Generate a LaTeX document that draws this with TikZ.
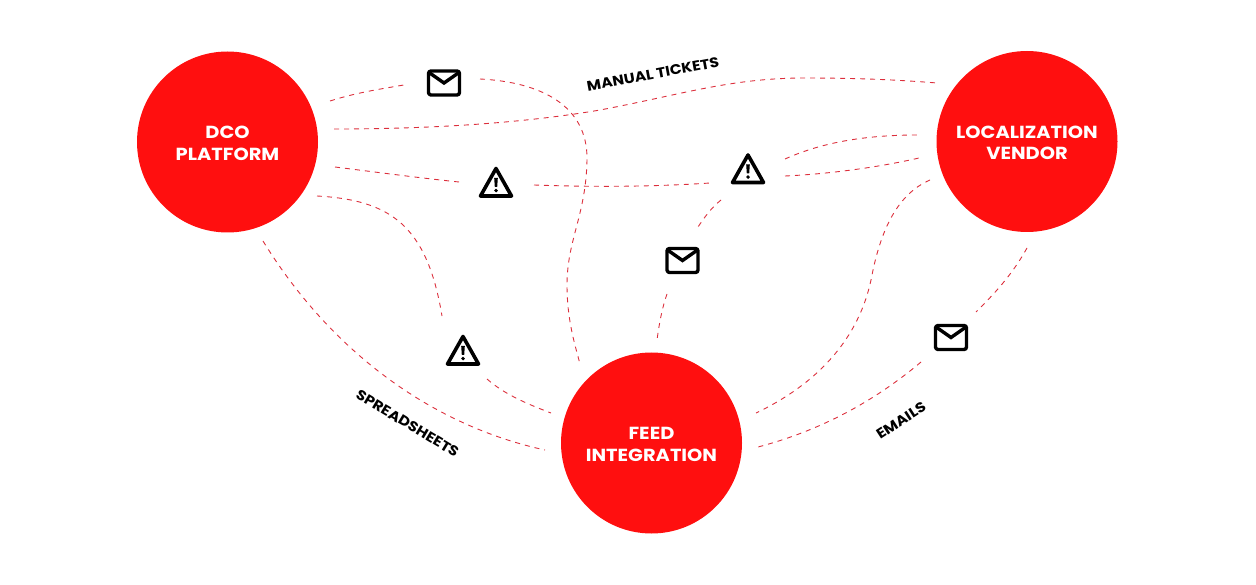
\documentclass[tikz,border=0pt]{standalone}
\usepackage{fontspec}
\setmainfont{Poppins}[FakeStretch=1.11]
\definecolor{hubred}{HTML}{FF0F0F}
\definecolor{linkred}{HTML}{DC2F3C}
\tikzset{
  hub/.style={circle,fill=hubred,minimum size=181pt,inner sep=0pt},
  hubtext/.style={text=white,align=center,inner sep=0pt,yshift=-1.5pt,font=\fontsize{17.5}{21.5}\selectfont\bfseries},
  link/.style={draw=linkred,line width=0.9pt,dash pattern=on 5pt off 5pt},
  tag/.style={font=\fontsize{14}{16}\selectfont\bfseries,inner sep=0pt},
  icon/.style={draw=none,inner sep=0pt,minimum size=4pt},
  mailglyph/.pic={
    \draw[line width=3.4pt,rounded corners=2.5pt,line join=round] (-15.5,-12) rectangle (15.5,12);
    \draw[line width=3.4pt,line join=miter] (-15,-10.5) -- (0,0) -- (15,-10.5);
  },
  warnglyph/.pic={
    \draw[line width=3.6pt,line join=round] (0,-14.5) -- (15.5,13) -- (-15.5,13) -- cycle;
    \fill (-1.8,-5) -- (1.8,-5) -- (1.2,4) -- (-1.2,4) -- cycle;
    \fill (0,7.6) circle (1.9);
  }
}
\begin{document}
\begin{tikzpicture}[x=1pt,y=-1pt]
\useasboundingbox (0,0) rectangle (1256,585);
\node[hub,label={[hubtext]center:DCO\\PLATFORM}] (dco) at (227.5,142) {};
\node[hub,label={[hubtext]center:LOCALIZATION\\VENDOR}] (vendor) at (1027,141.5) {};
\node[hub,label={[hubtext]center:FEED\\INTEGRATION}] (feed) at (651.5,443) {};

\node[icon] (m1) at (444,83) {};
\node[icon] (m2) at (682.5,260.5) {};
\node[icon] (m3) at (951,337.5) {};
\node[icon] (w1) at (496,183) {};
\node[icon] (w2) at (748,169.5) {};
\node[icon] (w3) at (463,351) {};
\foreach \n in {m1,m2,m3} \pic at (\n) {mailglyph};
\foreach \n in {w1,w2,w3} \pic at (\n) {warnglyph};

% free ends of the connectors
\coordinate (a1) at (330,101);   \coordinate (a2) at (404,85);
\coordinate (b1) at (480,79);    \coordinate (b2) at (580,364);
\coordinate (c1) at (334,129);   \coordinate (c2) at (937,83);
\coordinate (d1) at (335,167);   \coordinate (d2) at (459,182);
\coordinate (e1) at (534,185);   \coordinate (e2) at (710,183);
\coordinate (f1) at (785,159);   \coordinate (f2) at (918,135);
\coordinate (g1) at (785,176);   \coordinate (g2) at (919,158);
\coordinate (h1) at (721,200);   \coordinate (h2) at (698,227);
\coordinate (i1) at (667,294);   \coordinate (i2) at (657,340);
\coordinate (j1) at (930,180);   \coordinate (j2) at (756,413);
\coordinate (k1) at (1027,248);  \coordinate (k2) at (976,312);
\coordinate (l1) at (921,362);   \coordinate (l2) at (758,447);
\coordinate (n1) at (317,196);   \coordinate (n2) at (442,316);
\coordinate (o1) at (487,379);   \coordinate (o2) at (551,413);
\coordinate (p1) at (263,241);   \coordinate (p2) at (545,450);

\draw[link] (a1) .. controls (355,93) and (380,89) .. (a2);
\draw[link] (b1) .. controls (540,82) and (588,105) .. (587,160)
                 .. controls (586,215) and (567,240) .. (567,285)
                 .. controls (567,320) and (575,345) .. (b2);
\draw[link] (c1) .. controls (440,129) and (530,122) .. (600,110)
                 .. controls (680,95) and (730,78) .. (805,78)
                 .. controls (860,78) and (900,80) .. (c2);
\draw[link] (d1) .. controls (375,172) and (420,178) .. (d2);
\draw[link] (e1) .. controls (590,187) and (650,187) .. (e2);
\draw[link] (f1) .. controls (825,141) and (870,135) .. (f2);
\draw[link] (g1) .. controls (830,174) and (880,167) .. (g2);
\draw[link] (h1) .. controls (711,208) and (704,218) .. (h2);
\draw[link] (i1) .. controls (662,308) and (659,325) .. (i2);
\draw[link] (j1) .. controls (895,195) and (880,235) .. (872,275)
                 .. controls (860,340) and (815,385) .. (j2);
\draw[link] (k1) .. controls (1012,275) and (995,293) .. (k2);
\draw[link] (l1) .. controls (870,405) and (815,432) .. (l2);
\draw[link] (n1) .. controls (390,200) and (427,225) .. (n2);
\draw[link] (o1) .. controls (505,395) and (530,405) .. (o2);
\draw[link] (p1) .. controls (330,350) and (430,425) .. (p2);

\node[tag,rotate=10.5] (t1) at (653,74) {MANUAL TICKETS};
\node[tag,rotate=-31] (t2) at (407.5,423.5) {SPREADSHEETS};
\node[tag,rotate=33] (t3) at (901,420.5) {EMAILS};
\end{tikzpicture}
\end{document}
